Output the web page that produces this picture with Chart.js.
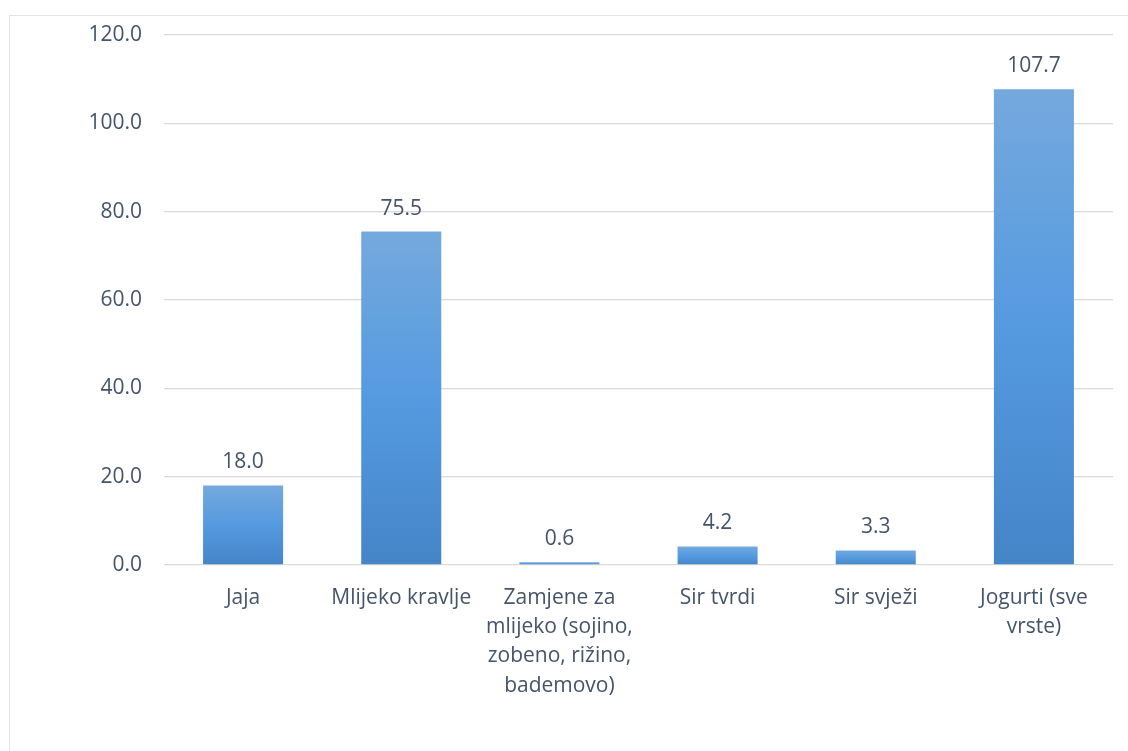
<!DOCTYPE html>
<html><head><meta charset="utf-8">
<script src="https://cdn.jsdelivr.net/npm/chart.js@4/dist/chart.umd.min.js"></script>
<style>
html,body{margin:0;padding:0;background:#fff;overflow:hidden;}
#frame{position:absolute;left:9px;top:15px;width:1130px;height:760px;border:1px solid #e3e3e3;box-sizing:border-box;}
#wrap{position:absolute;left:0;top:0;width:1128px;height:751px;}
</style></head>
<body>
<div id="frame"></div>
<div id="wrap"><canvas id="c" width="1128" height="751"></canvas></div>
<script>
const categories = [
  'Jaja',
  'Mlijeko kravlje',
  ['Zamjene za','mlijeko (sojino,','zobeno, rižino,','bademovo)'],
  'Sir tvrdi',
  'Sir svježi',
  ['Jogurti (sve','vrste)']
];
const values = [18.0, 75.5, 0.6, 4.2, 3.3, 107.7];
const yTicks = [0, 20, 40, 60, 80, 100, 120];

const textColor = '#44546a';
const fontFamily = '"Open Sans", Lato, sans-serif';
const fontSize = 21;

function barGradient(ctx) {
  const chart = ctx.chart;
  const y = chart.scales && chart.scales.y;
  if (!y || ctx.dataIndex === undefined) return '#5b9bd5';
  const top = y.getPixelForValue(values[ctx.dataIndex]);
  const bottom = y.getPixelForValue(0);
  if (!isFinite(top) || !isFinite(bottom) || top === bottom) return '#5b9bd5';
  const g = chart.ctx.createLinearGradient(0, top, 0, bottom);
  g.addColorStop(0, '#74a9dd');
  g.addColorStop(0.5, '#559ae0');
  g.addColorStop(1, '#4485c7');
  return g;
}

const valueLabels = {
  id: 'valueLabels',
  afterDatasetsDraw(chart) {
    const c = chart.ctx;
    const meta = chart.getDatasetMeta(0);
    c.save();
    c.fillStyle = textColor;
    c.font = fontSize + 'px ' + fontFamily;
    c.textAlign = 'center';
    c.textBaseline = 'middle';
    meta.data.forEach((bar, i) => {
      c.fillText(values[i].toFixed(1), bar.x, bar.y - 23);
    });
    c.restore();
  }
};

new Chart(document.getElementById('c'), {
  type: 'bar',
  data: {
    labels: categories,
    datasets: [{
      data: values,
      backgroundColor: barGradient,
      borderWidth: 0,
      categoryPercentage: 1.0,
      barPercentage: 0.506
    }]
  },
  options: {
    responsive: false,
    animation: false,
    devicePixelRatio: 1,
    layout: { padding: { top: 35, right: 15, left: 0, bottom: 0 } },
    plugins: { legend: { display: false }, tooltip: { enabled: false } },
    scales: {
      x: {
        grid: { display: false, drawTicks: false },
        border: { display: false },
        ticks: {
          color: textColor,
          font: { family: fontFamily, size: fontSize, lineHeight: 1.4 },
          padding: 18,
          maxRotation: 0,
          autoSkip: false
        },
        afterFit(scale) { scale.height = 186; }
      },
      y: {
        min: 0, max: 120,
        afterBuildTicks(scale) { scale.ticks = yTicks.map(v => ({ value: v })); },
        grid: { color: '#d9d9d9', lineWidth: 1.3, drawTicks: false },
        border: { display: false },
        ticks: {
          color: textColor,
          font: { family: fontFamily, size: fontSize },
          padding: 22,
          callback: v => Number(v).toFixed(1)
        },
        afterFit(scale) { scale.width = 164; }
      }
    }
  },
  plugins: [valueLabels]
});
</script>
</body></html>
